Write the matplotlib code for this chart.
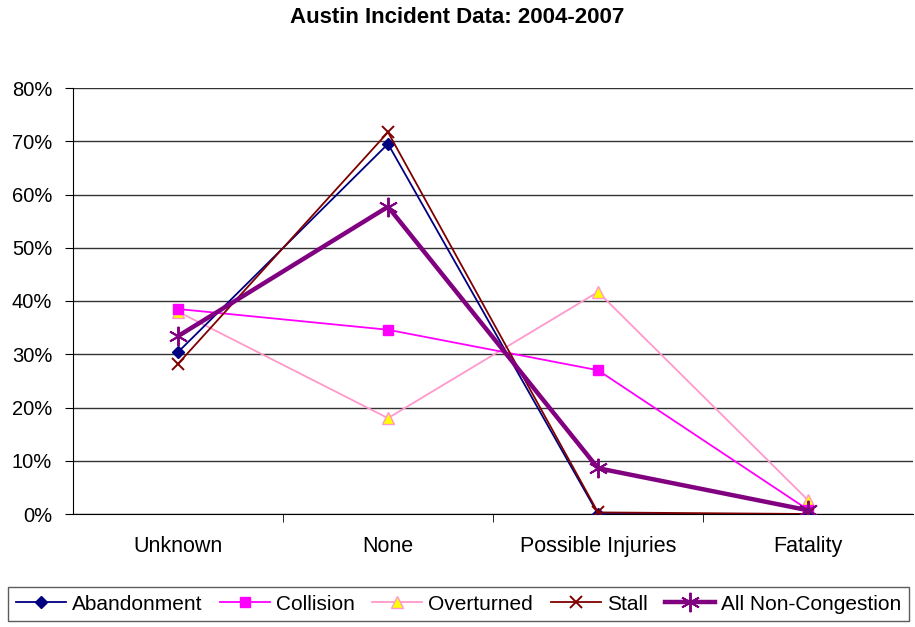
import numpy as np
import matplotlib
matplotlib.use("Agg")
import matplotlib.pyplot as plt

plt.rcParams["font.family"] = ["Liberation Sans", "DejaVu Sans"]

CATS = ["Unknown", "None", "Possible Injuries", "Fatality"]
ABANDON = [30.4, 69.5, 0.0, 0.0]
COLLISION = [38.5, 34.6, 27.0, 0.8]
OVERTURN = [38.0, 18.0, 41.7, 2.6]
STALL = [28.2, 71.7, 0.3, 0.0]
ALL_NC = [33.4, 57.7, 8.6, 0.7]
YTICKS = [0, 10, 20, 30, 40, 50, 60, 70, 80]

fig = plt.figure(figsize=(9.15, 6.27), dpi=100)
ax = fig.add_axes([73 / 915, 1 - 514 / 627, 840 / 915, 426 / 627])
x = np.arange(len(CATS))

ax.plot(x, ABANDON, color="#000080", lw=1.3, marker="D", ms=6.5,
        mfc="#000080", mec="#000080", label="Abandonment", zorder=4)
ax.plot(x, COLLISION, color="#ff00ff", lw=1.3, marker="s", ms=7.5,
        mfc="#ff00ff", mec="#ff00ff", label="Collision", zorder=3)
ax.plot(x, OVERTURN, color="#ff99cc", lw=1.3, marker="^", ms=9,
        mfc="#ffff00", mec="#ff99cc", label="Overturned", zorder=2)
ax.plot(x, STALL, color="#800000", lw=1.3, marker="x", ms=9, mew=1.4,
        mfc="#800000", mec="#800000", label="Stall", zorder=5)
ax.plot(x, ALL_NC, color="#800080", lw=3.2, marker=(6, 2, 0), ms=14, mew=1.4,
        mec="#800080", label="All Non-Congestion", zorder=6)

ax.set_xlim(-0.5, len(CATS) - 0.5)
ax.set_ylim(0, 80)
ax.set_yticks(YTICKS)
ax.set_yticklabels([f"{v}%" for v in YTICKS], fontsize=14.5)
ax.yaxis.grid(True, color="#333333", lw=1.0)
ax.set_axisbelow(True)
ax.set_xticks(x)
ax.set_xticklabels(CATS, fontsize=15.5)
ax.set_xticks(np.arange(len(CATS) - 1) + 0.5, minor=True)
ax.tick_params(axis="x", which="major", length=0, pad=16)
ax.tick_params(axis="x", which="minor", length=6, direction="out", color="black")
ax.tick_params(axis="y", length=6, direction="out", pad=9)
for s in ("top", "right"):
    ax.spines[s].set_visible(False)
ax.spines["left"].set_color("black")
ax.spines["bottom"].set_color("black")

fig.text(0.5, 1 - 17.5 / 627, "Austin Incident Data: 2004-2007", ha="center",
         va="center", fontsize=16, fontweight="bold")

leg = fig.legend(loc="upper left", bbox_to_anchor=(8 / 915, 1 - 587 / 627),
                 ncol=5, fontsize=15, frameon=True, fancybox=False,
                 handlelength=2.4, handletextpad=0.29, columnspacing=0.85,
                 borderpad=0.36, borderaxespad=0)
leg.get_frame().set_edgecolor("#333333")
leg.get_frame().set_linewidth(1.0)

fig.savefig("out.png", dpi=100)
